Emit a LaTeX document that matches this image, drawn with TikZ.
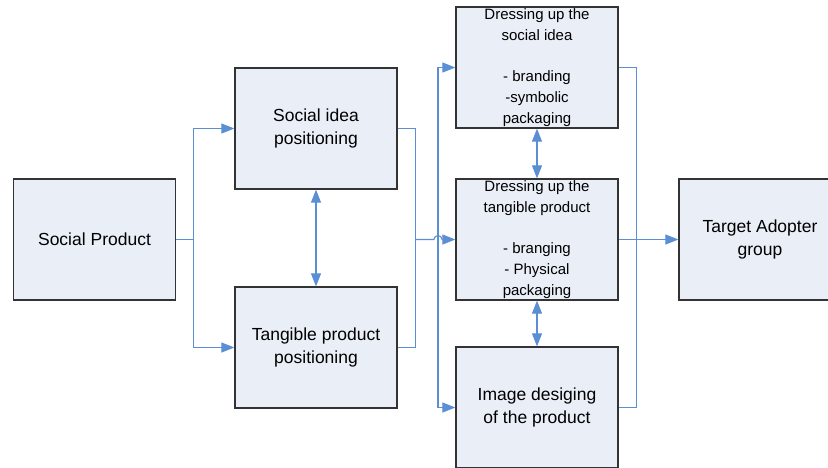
\documentclass[tikz,border=0pt]{standalone}
\usepackage{fontspec}
\setmainfont{Liberation Sans}
\usetikzlibrary{arrows.meta, calc}
\definecolor{boxfill}{HTML}{E9EEF7}
\definecolor{linkblue}{HTML}{5A8FD3}
\definecolor{edgegray}{HTML}{333333}
\begin{document}
\begin{tikzpicture}[x=1pt, y=-1pt]
			\tikzstyle{block} = [rectangle, minimum width=162pt, minimum height=121pt, inner sep=0pt, draw=edgegray, line width=1.3pt, fill=boxfill, align=center, font=\fontsize{17.5}{23}\selectfont]
			\tikzstyle{small} = [font=\fontsize{15}{20.7}\selectfont]
			\tikzstyle{wire}  = [draw=linkblue, line width=1.1pt]
			\tikzstyle{link}  = [wire, -{Triangle[length=13pt, width=10pt]}]
			\tikzstyle{dlink} = [wire, {Triangle[length=13pt, width=10pt]}-{Triangle[length=13pt, width=10pt]}]

			\useasboundingbox (0, 0) rectangle (828, 467);
			\clip (0, 0) rectangle (828, 467);

			\foreach \name/\x/\y/\text in {prod/94.5/239.5/{Social Product}, idea/316/128.5/{Social idea\\positioning}, tang/316/347.5/{Tangible product\\positioning}, img/537/407.5/{Image desiging\\of the product}, tag/760/239.5/{Target Adopter\\group}}
				\node[block] (\name) at (\x, \y) {\text};

			\node[block, small] (dsoc) at (537, 67.5) {Dressing up the\\social idea\\[20.7pt]- branding\\-symbolic\\packaging};
			\node[block, small] (dtan) at (537, 239.5) {Dressing up the\\tangible product\\[20.7pt]- branging\\- Physical\\packaging};

			\coordinate (fork) at (415, 239.5);
			\coordinate (hop) at (438, 239.5);

			\foreach \to in {idea, tang}
				\draw[link] (prod.east) -- ++(17, 0) |- (\to.west);

			\draw[wire] (idea.east) -- ++(18, 0) |- (tang.east);
			\draw[link] (fork) -- ($(hop) + (-4, 0)$) arc (180:360:4) -- (dtan.west);

			\foreach \to in {dsoc, img}
				\draw[link] (hop) |- (\to.west);

			\draw[wire] (dsoc.east) -- ++(18, 0) |- (img.east);
			\draw[link] (dtan.east) -- (tag.west);

			\foreach \from/\to in {idea/tang, dsoc/dtan, dtan/img}
				\draw[dlink] (\from) -- (\to);

\end{tikzpicture}
\end{document}
